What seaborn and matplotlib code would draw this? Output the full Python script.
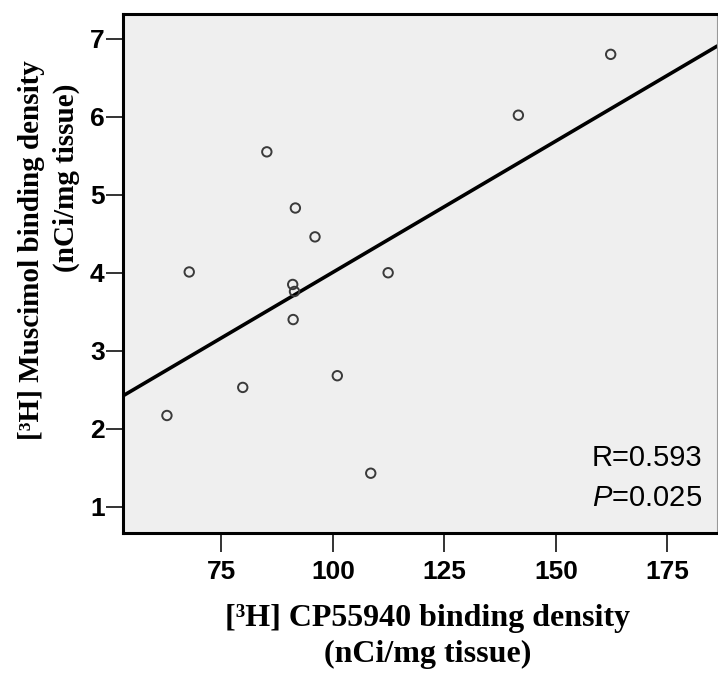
import numpy as np
import pandas as pd
import seaborn as sns
import matplotlib.pyplot as plt

# values
cp55940 = [162.3, 141.6, 85.2, 91.6, 96.0, 67.8, 112.4, 91.0, 91.4, 91.1, 79.8, 101.0, 62.8, 108.5]
muscimol = [6.80, 6.02, 5.55, 4.83, 4.46, 4.01, 4.00, 3.85, 3.76, 3.40, 2.53, 2.68, 2.17, 1.43]
x_ticks = [75, 100, 125, 150, 175]
y_ticks = [1, 2, 3, 4, 5, 6, 7]
r_label = "R=0.593"
p_label = r"$P$=0.025"
xlabel_lines = ["[\u00b3H] CP55940 binding density", "(nCi/mg tissue)"]
ylabel_lines = ["[\u00b3H] Muscimol binding density", "(nCi/mg tissue)"]

df = pd.DataFrame({"cp55940": cp55940, "muscimol": muscimol})

sns.set_style("white")
plt.rcParams['font.family'] = ['Liberation Sans', 'DejaVu Sans']
plt.rcParams['text.color'] = 'black'
plt.rcParams['mathtext.fontset'] = 'custom'
plt.rcParams['mathtext.it'] = 'Liberation Sans:italic'
plt.rcParams['mathtext.rm'] = 'Liberation Sans'

fig = plt.figure(figsize=(7.18, 6.89), dpi=100)
ax = fig.add_axes([0.171, 0.226, 0.828, 0.754])
ax.set_facecolor('#efefef')
ax.set_xlim(52.9, 186.2)
ax.set_ylim(0.66, 7.32)

sns.regplot(data=df, x="cp55940", y="muscimol", ci=None, truncate=False, ax=ax,
            scatter_kws=dict(s=46, color='#3a3a3a', facecolors='none', linewidths=1.4, alpha=1, zorder=3),
            line_kws=dict(color='black', lw=2.6, zorder=2))
ax.set_xlim(52.9, 186.2)
ax.set_ylim(0.66, 7.32)

ax.set_xticks(x_ticks)
ax.set_yticks(y_ticks)
ax.set_xticklabels([str(t) for t in x_ticks], fontweight='bold')
ax.set_yticklabels([str(t) for t in y_ticks], fontweight='bold')
ax.tick_params(axis='x', bottom=True, length=14, width=1.4, color='#333333', pad=5,
               labelsize=19, labelcolor='black')
ax.tick_params(axis='y', left=True, length=12, width=1.4, color='#333333', pad=1,
               labelsize=19, labelcolor='black')
ax.set_xlabel("")
ax.set_ylabel("")

for side in ['left', 'top', 'bottom']:
    ax.spines[side].set_color('black')
    ax.spines[side].set_linewidth(2.2)
ax.spines['right'].set_color('#999999')
ax.spines['right'].set_linewidth(0.8)

ax.text(0.974, 0.1296, r_label, transform=ax.transAxes, ha='right', va='baseline', fontsize=21)
ax.text(0.974, 0.0526, p_label, transform=ax.transAxes, ha='right', va='baseline', fontsize=21)

xserif = dict(family='Liberation Serif', fontweight='bold', fontsize=23, color='black')
yserif = dict(family='Liberation Serif', fontweight='bold', fontsize=21, color='black')
fig.text(0.596, 1 - 626 / 689, xlabel_lines[0], ha='center', va='baseline', **xserif)
fig.text(0.596, 1 - 662 / 689, xlabel_lines[1], ha='center', va='baseline', **xserif)
fig.text(32 / 718, 1 - 250 / 689, ylabel_lines[0], rotation=90, ha='center', va='center', **yserif)
fig.text(66 / 718, 1 - 178 / 689, ylabel_lines[1], rotation=90, ha='center', va='center', **yserif)

plt.savefig("out.png", dpi=100)
